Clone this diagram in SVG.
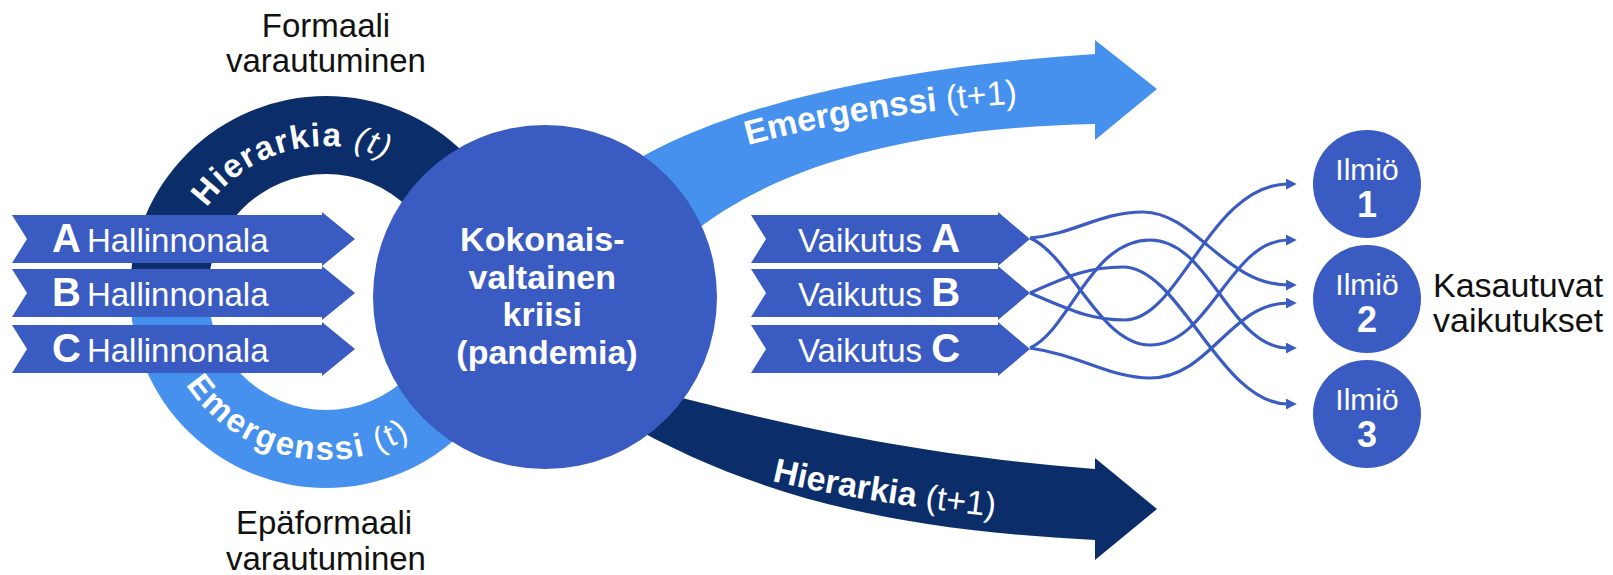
<svg xmlns="http://www.w3.org/2000/svg" width="1613" height="575" viewBox="0 0 1613 575">
<defs>
<style>
.navy{fill:#0B2E6B}
.mid{fill:#3A5CC2}
.light{fill:#4691EE}
.lbl{font-family:"Liberation Sans",Arial,sans-serif;fill:#111111}
.wt{font-family:"Liberation Sans",Arial,sans-serif;fill:#FFFFFF}
.b{font-weight:bold}
.wave{fill:none;stroke:#3A5CC2;stroke-width:3.2}
</style>
<marker id="ah" viewBox="0 0 10 10" refX="2" refY="5" markerWidth="11" markerHeight="11" markerUnits="userSpaceOnUse" orient="auto">
<path d="M0,0 L10,5 L0,10 z" fill="#3A5CC2"/>
</marker>
<path id="arcTop" d="M182.2,266.6 A146 146 0 0 1 437.8,198.2"/>
<path id="arcBot" d="M160.6,321.2 A168 168 0 0 0 461.9,390.7"/>
<path id="pE1" d="M748,145 Q870,112 1040,102"/>
<path id="pH1" d="M772,481 Q860,502 1015,519"/>
</defs>
<rect width="1613" height="575" fill="#FFFFFF"/>

<g id="labels-left">
<text class="lbl" font-size="33" text-anchor="middle" x="326" y="37">Formaali</text>
<text class="lbl" font-size="33" text-anchor="middle" x="326" y="72">varautuminen</text>
<text class="lbl" font-size="33" text-anchor="middle" x="324" y="534">Epäformaali</text>
<text class="lbl" font-size="33" text-anchor="middle" x="326" y="570">varautuminen</text>
</g>

<g id="ring-hierarkia">
<path class="navy" d="M130,292 A196 196 0 0 1 522,292 L444,292 A118 118 0 0 0 208,292 Z"/>
<text class="wt" font-size="33" letter-spacing="1.6"><textPath href="#arcTop" startOffset="50%" text-anchor="middle"><tspan class="b">Hierarkia</tspan><tspan font-style="italic"> (t)</tspan></textPath></text>
</g>
<g id="ring-emergenssi">
<path class="light" d="M130,292 A196 196 0 0 0 522,292 L444,292 A118 118 0 0 1 208,292 Z"/>
<text class="wt" font-size="33" letter-spacing="2"><textPath href="#arcBot" startOffset="50%" text-anchor="middle"><tspan class="b">Emergenssi</tspan><tspan> (t)</tspan></textPath></text>
</g>

<g id="hallinnonala-a">
<path class="mid" d="M12,215 L322,215 L322,212 L355,239 L322,266 L322,263 L12,263 L27,239 Z"/>
<text class="wt" x="52" y="252"><tspan class="b" font-size="40">A</tspan><tspan font-size="33" dx="6">Hallinnonala</tspan></text>
</g>
<g id="hallinnonala-b">
<path class="mid" d="M12,269 L322,269 L322,266 L355,293 L322,320 L322,317 L12,317 L27,293 Z"/>
<text class="wt" x="52" y="306"><tspan class="b" font-size="40">B</tspan><tspan font-size="33" dx="6">Hallinnonala</tspan></text>
</g>
<g id="hallinnonala-c">
<path class="mid" d="M12,325 L322,325 L322,322 L355,349 L322,376 L322,373 L12,373 L27,349 Z"/>
<text class="wt" x="52" y="362"><tspan class="b" font-size="40">C</tspan><tspan font-size="33" dx="6">Hallinnonala</tspan></text>
</g>

<g id="arrow-emergenssi-t1">
<path class="light" d="M600,185 C680,120 850,70 1095,54 L1095,40 L1157,89 L1095,140 L1095,124 C900,128 770,170 690,235 Z"/>
<text class="wt" font-size="34"><textPath href="#pE1"><tspan class="b">Emergenssi</tspan><tspan> (t+1)</tspan></textPath></text>
</g>
<g id="arrow-hierarkia-t1">
<path class="navy" d="M610,380 C700,400 850,450 1095,469 L1095,458 L1157,509 L1095,560 L1095,540 C900,530 760,500 620,420 Z"/>
<text class="wt" font-size="34"><textPath href="#pH1"><tspan class="b">Hierarkia</tspan><tspan> (t+1)</tspan></textPath></text>
</g>

<g id="kriisi">
<circle class="mid" cx="545" cy="297" r="172"/>
<text class="wt b" font-size="34" text-anchor="middle">
<tspan x="547" y="251">Kokonais-</tspan>
<tspan x="547" y="288.5">valtainen</tspan>
<tspan x="547" y="326">kriisi</tspan>
<tspan x="547" y="363.5">(pandemia)</tspan>
</text>
</g>

<g id="vaikutus-a">
<path class="mid" d="M751,215 L998,215 L998,212 L1030,239 L998,266 L998,263 L751,263 L766,239 Z"/>
<text class="wt" x="798" y="252"><tspan font-size="33">Vaikutus</tspan><tspan class="b" font-size="40" dx="9">A</tspan></text>
</g>
<g id="vaikutus-b">
<path class="mid" d="M751,269 L998,269 L998,266 L1030,293 L998,320 L998,317 L751,317 L766,293 Z"/>
<text class="wt" x="798" y="306"><tspan font-size="33">Vaikutus</tspan><tspan class="b" font-size="40" dx="9">B</tspan></text>
</g>
<g id="vaikutus-c">
<path class="mid" d="M751,325 L998,325 L998,322 L1030,349 L998,376 L998,373 L751,373 L766,349 Z"/>
<text class="wt" x="798" y="362"><tspan font-size="33">Vaikutus</tspan><tspan class="b" font-size="40" dx="9">C</tspan></text>
</g>

<g id="connectors">
<path class="wave" marker-end="url(#ah)" d="M1030,238 C1075,234 1100,212 1143,212 C1195,212 1225,285 1288,285"/>
<path class="wave" marker-end="url(#ah)" d="M1030,238 C1070,255 1100,345 1150,345 C1210,345 1230,240 1288,240"/>
<path class="wave" marker-end="url(#ah)" d="M1030,293 C1070,310 1090,320 1125,320 C1180,320 1210,184 1288,184"/>
<path class="wave" marker-end="url(#ah)" d="M1030,293 C1070,275 1090,267 1123,267 C1180,267 1220,404 1288,404"/>
<path class="wave" marker-end="url(#ah)" d="M1030,348 C1070,330 1090,240 1150,240 C1210,240 1230,348 1288,348"/>
<path class="wave" marker-end="url(#ah)" d="M1030,348 C1080,355 1110,378 1150,378 C1210,378 1230,303 1288,303"/>
</g>

<g id="ilmio-1">
<circle class="mid" cx="1367" cy="184" r="54"/>
<text class="wt" font-size="30" text-anchor="middle" x="1367" y="180">Ilmiö</text>
<text class="wt b" font-size="36" text-anchor="middle" x="1367" y="217">1</text>
</g>
<g id="ilmio-2">
<circle class="mid" cx="1367" cy="299" r="54"/>
<text class="wt" font-size="30" text-anchor="middle" x="1367" y="295">Ilmiö</text>
<text class="wt b" font-size="36" text-anchor="middle" x="1367" y="332">2</text>
</g>
<g id="ilmio-3">
<circle class="mid" cx="1367" cy="414" r="54"/>
<text class="wt" font-size="30" text-anchor="middle" x="1367" y="410">Ilmiö</text>
<text class="wt b" font-size="36" text-anchor="middle" x="1367" y="447">3</text>
</g>

<g id="label-right">
<text class="lbl" font-size="34" x="1433" y="297">Kasautuvat</text>
<text class="lbl" font-size="34" x="1433" y="332">vaikutukset</text>
</g>
</svg>
